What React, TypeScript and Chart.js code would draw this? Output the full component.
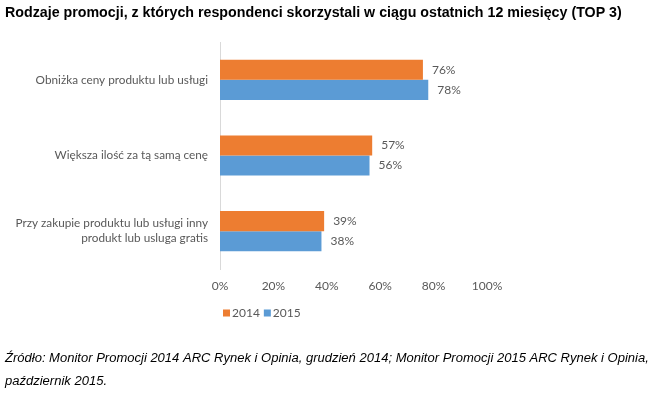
import React, { useEffect, useRef } from "react";
import { Chart, registerables } from "chart.js";
Chart.register(...registerables);

const TITLE = "Rodzaje promocji, z których respondenci skorzystali w ciągu ostatnich 12 miesięcy (TOP 3)";
const CATEGORIES: string[][] = [
  ["Obniżka ceny produktu lub usługi"],
  ["Większa ilość za tą samą cenę"],
  ["Przy zakupie produktu lub usługi inny", "produkt lub usluga gratis"],
];
const SERIES_LABELS = ["2014", "2015"];
const VALUES_2014 = [76, 57, 39];
const VALUES_2015 = [78, 56, 38];
const X_TICKS = [0, 20, 40, 60, 80, 100];
const SOURCE_LINES = [
  "Źródło: Monitor Promocji 2014 ARC Rynek i Opinia, grudzień 2014; Monitor Promocji 2015 ARC Rynek i Opinia,",
  "październik 2015.",
];

const ORANGE = "#ED7D31";
const BLUE = "#5B9BD5";
const TEXT = "#595959";
const CHART_FONT = "Lato";

const dataLabels = {
  id: "dataLabels",
  afterDatasetsDraw(chart: any) {
    const ctx = chart.ctx;
    ctx.save();
    ctx.font = `12px ${CHART_FONT}`;
    ctx.fillStyle = TEXT;
    ctx.textAlign = "left";
    ctx.textBaseline = "middle";
    chart.data.datasets.forEach((ds: any, i: number) => {
      const meta = chart.getDatasetMeta(i);
      meta.data.forEach((el: any, j: number) => {
        ctx.fillText(ds.data[j] + "%", el.x + 9, el.y);
      });
    });
    ctx.restore();
  },
};

function fitText(ctx: any, text: string, style: string, family: string, base: number, target: number) {
  ctx.font = `${style} ${base}px ${family}`;
  const w = ctx.measureText(text).width;
  const size = (base * target) / w;
  ctx.font = `${style} ${size}px ${family}`;
  return size;
}

const decor = {
  id: "decor",
  afterDraw(chart: any) {
    const ctx = chart.ctx;
    ctx.save();
    // title
    ctx.fillStyle = "#000";
    ctx.textAlign = "left";
    ctx.textBaseline = "middle";
    fitText(ctx, TITLE, "bold", '"Liberation Sans"', 14, 617);
    ctx.fillText(TITLE, 5, 13);
    // legend
    ctx.font = `12px ${CHART_FONT}`;
    ctx.fillStyle = TEXT;
    let x = 223;
    const ly = 313;
    chart.data.datasets.forEach((ds: any) => {
      ctx.fillStyle = ds.backgroundColor;
      ctx.fillRect(x, ly - 3.5, 7, 7);
      x += 9;
      ctx.fillStyle = TEXT;
      ctx.fillText(ds.label, x, ly);
      x += ctx.measureText(ds.label).width + 4;
    });
    // footnote
    ctx.fillStyle = "#000";
    const size = fitText(ctx, SOURCE_LINES[0], "italic", '"Liberation Sans"', 12, 645);
    ctx.fillText(SOURCE_LINES[0], 5, 358);
    ctx.font = `italic ${size}px "Liberation Sans"`;
    ctx.fillText(SOURCE_LINES[1], 5, 381);
    ctx.restore();
  },
};

export default function App() {
  const ref = useRef<HTMLCanvasElement>(null);
  useEffect(() => {
    if (!ref.current) return;
    const chart = new Chart(ref.current, {
      type: "bar",
      data: {
        labels: CATEGORIES,
        datasets: [
          { label: SERIES_LABELS[0], data: VALUES_2014, backgroundColor: ORANGE, categoryPercentage: 0.53, barPercentage: 1 },
          { label: SERIES_LABELS[1], data: VALUES_2015, backgroundColor: BLUE, categoryPercentage: 0.53, barPercentage: 1 },
        ],
      },
      options: {
        indexAxis: "y",
        responsive: false,
        animation: false,
        layout: { padding: { left: 0, right: 168, top: 42, bottom: 99 } },
        plugins: { legend: { display: false }, tooltip: { enabled: false } },
        scales: {
          x: {
            min: X_TICKS[0],
            max: X_TICKS[X_TICKS.length - 1],
            afterBuildTicks: (s: any) => { s.ticks = X_TICKS.map((v) => ({ value: v })); },
            ticks: { callback: (v: any) => v + "%", font: { family: CHART_FONT, size: 12 }, color: TEXT, padding: 2, maxRotation: 0 },
            grid: { display: false },
            border: { display: false },
            afterFit: (s: any) => { s.height = 30; },
          },
          y: {
            ticks: { font: { family: CHART_FONT, size: 11.75, lineHeight: 1.28 }, color: TEXT, padding: 4 },
            grid: { display: false },
            border: { display: true, color: "#D9D9D9", width: 1 },
            afterFit: (s: any) => { s.width = 220; },
          },
        },
      },
      plugins: [dataLabels, decor],
    });
    return () => chart.destroy();
  }, []);
  return (
    <div style={{ position: "absolute", left: 0, top: 0, width: 655, height: 398, background: "#fff" }}>
      <canvas ref={ref} width={655} height={398} />
    </div>
  );
}
